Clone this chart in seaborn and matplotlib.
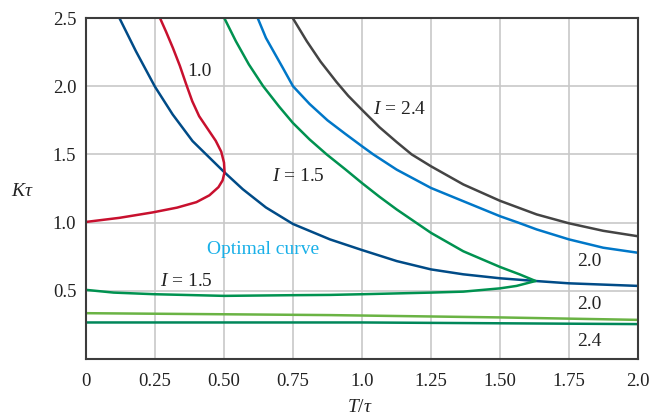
import matplotlib
matplotlib.use("Agg")
import matplotlib.pyplot as plt
import seaborn as sns

# Curve data (T/tau, K*tau)
opt_x = [0.121, 0.181, 0.25, 0.314, 0.386, 0.447, 0.501, 0.568, 0.652, 0.75,
         0.884, 1.0, 1.126, 1.25, 1.367, 1.5, 1.629, 1.75, 2.0]
opt_y = [2.5, 2.256, 1.996, 1.793, 1.598, 1.477, 1.37, 1.245, 1.111, 0.99,
         0.877, 0.799, 0.718, 0.657, 0.621, 0.592, 0.572, 0.555, 0.536]

i10_x = [0.268, 0.29, 0.315, 0.34, 0.362, 0.385, 0.41, 0.44, 0.47, 0.49,
         0.50, 0.502, 0.495, 0.48, 0.447, 0.40, 0.33, 0.242, 0.121, 0.0]
i10_y = [2.5, 2.40, 2.28, 2.15, 2.02, 1.89, 1.78, 1.69, 1.60, 1.52,
         1.44, 1.37, 1.31, 1.26, 1.20, 1.15, 1.11, 1.075, 1.035, 1.005]

i15_x = [0.501, 0.543, 0.59, 0.642, 0.70, 0.75, 0.81, 0.872, 0.94, 1.0,
         1.063, 1.126, 1.25, 1.367, 1.5, 1.572, 1.629,
         1.56, 1.5, 1.367, 1.25, 1.0, 0.884, 0.75, 0.5, 0.25, 0.1, 0.0]
i15_y = [2.5, 2.33, 2.16, 2.0, 1.85, 1.73, 1.61, 1.5, 1.39, 1.29,
         1.19, 1.096, 0.925, 0.79, 0.675, 0.62, 0.572,
         0.536, 0.518, 0.494, 0.487, 0.475, 0.47, 0.468, 0.463, 0.475, 0.487, 0.507]

i20_x = [0.622, 0.652, 0.713, 0.75, 0.81, 0.875, 0.94, 1.0, 1.041, 1.126,
         1.25, 1.367, 1.5, 1.566, 1.633, 1.75, 1.874, 2.0]
i20_y = [2.5, 2.354, 2.135, 2.0, 1.87, 1.75, 1.65, 1.56, 1.5, 1.388,
         1.254, 1.157, 1.047, 1.0, 0.95, 0.877, 0.816, 0.779]

i24_x = [0.749, 0.80, 0.85, 0.908, 0.95, 1.0, 1.063, 1.126, 1.18, 1.25,
         1.367, 1.5, 1.633, 1.75, 1.874, 2.0]
i24_y = [2.5, 2.33, 2.18, 2.03, 1.93, 1.827, 1.70, 1.59, 1.50, 1.413,
         1.28, 1.16, 1.06, 0.995, 0.94, 0.90]

low20_x = [0.0, 0.884, 1.5, 2.0]
low20_y = [0.336, 0.322, 0.305, 0.287]

low24_x = [0.0, 1.0, 2.0]
low24_y = [0.268, 0.268, 0.256]

x_ticks = [0, 0.25, 0.5, 0.75, 1.0, 1.25, 1.5, 1.75, 2.0]
x_ticklabels = ["0", "0.25", "0.50", "0.75", "1.0", "1.25", "1.50", "1.75", "2.0"]
y_ticks = [0.5, 1.0, 1.5, 2.0, 2.5]
y_ticklabels = ["0.5", "1.0", "1.5", "2.0", "2.5"]

sns.set_theme(style="whitegrid")
plt.rcParams["font.family"] = ["Liberation Serif", "DejaVu Serif"]
plt.rcParams["mathtext.fontset"] = "custom"
plt.rcParams["mathtext.rm"] = "Liberation Serif"
plt.rcParams["mathtext.it"] = "Liberation Serif:italic"

fig = plt.figure(figsize=(6.53, 4.18), dpi=100)
ax = fig.add_axes([0.1317, 0.1411, 0.977 - 0.1317, 0.9569 - 0.1411])
ax.set_facecolor("white")

curves = [
    (opt_x, opt_y, "#004b87"),
    (i10_x, i10_y, "#c8102e"),
    (i15_x, i15_y, "#009250"),
    (i20_x, i20_y, "#0077c8"),
    (i24_x, i24_y, "#444444"),
    (low20_x, low20_y, "#6ab344"),
    (low24_x, low24_y, "#00875a"),
]
for xs, ys, c in curves:
    sns.lineplot(x=xs, y=ys, sort=False, estimator=None, color=c, lw=1.8,
                 legend=False, ax=ax)

ax.set_xlim(0, 2.0)
ax.set_ylim(0, 2.5)
ax.set_xticks(x_ticks)
ax.set_xticklabels(x_ticklabels)
ax.set_yticks(y_ticks)
ax.set_yticklabels(y_ticklabels)
ax.tick_params(length=0, labelsize=13.5, colors="#222222")
ax.tick_params(axis="x", pad=10)
ax.tick_params(axis="y", pad=7)
ax.grid(True, color="#c8c8c8", lw=1.2)
for s in ax.spines.values():
    s.set_color("#3c3c3c")
    s.set_linewidth(1.5)

# Annotations
fs = 14
ax.text(0.41, 2.105, "1.0", fontsize=fs, ha="center", va="center", color="#222222")
ax.text(0.674, 1.34, r"$I$ = 1.5", fontsize=fs, ha="left", va="center", color="#222222")
ax.text(1.04, 1.83, r"$I$ = 2.4", fontsize=fs, ha="left", va="center", color="#222222")
ax.text(0.438, 0.80, "Optimal curve", fontsize=fs, ha="left", va="center", color="#1ab0e8")
ax.text(0.268, 0.57, r"$I$ = 1.5", fontsize=fs, ha="left", va="center", color="#222222")
ax.text(1.78, 0.716, "2.0", fontsize=fs, ha="left", va="center", color="#222222")
ax.text(1.78, 0.40, "2.0", fontsize=fs, ha="left", va="center", color="#222222")
ax.text(1.78, 0.13, "2.4", fontsize=fs, ha="left", va="center", color="#222222")

fig.text(22 / 653, 1 - 192 / 418, r"$K\tau$", fontsize=fs, ha="center", va="center",
         color="#222222")
fig.text(360 / 653, 1 - 408 / 418, r"$T/\tau$", fontsize=fs, ha="center", va="center",
         color="#222222")

fig.savefig("out.png", dpi=100)
